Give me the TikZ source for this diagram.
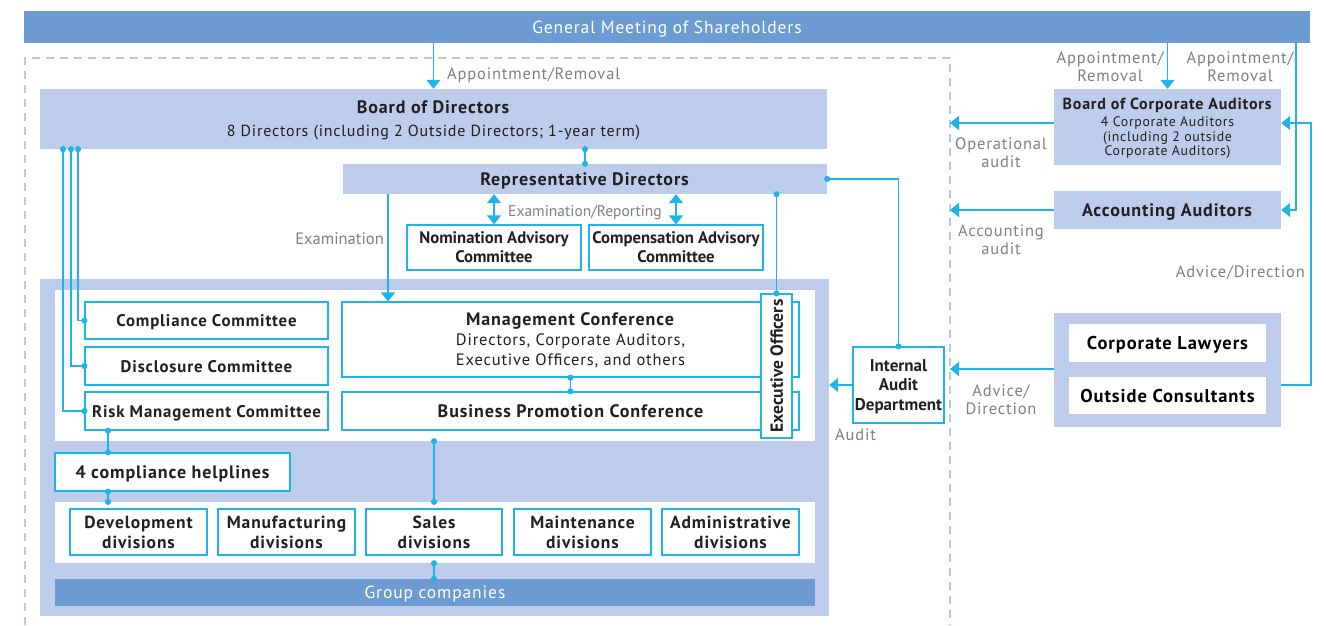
\documentclass[tikz,border=0pt]{standalone}
\usepackage{fontspec}
\setmainfont{PT Sans}[LetterSpace=5]
\newfontfamily\narrowfont{PT Sans}
\usetikzlibrary{arrows.meta,positioning}

\definecolor{barblue}{HTML}{6B9BD0}
\definecolor{paleblue}{HTML}{BCCCEA}
\definecolor{linkblue}{HTML}{1EB4EA}
\definecolor{framegray}{HTML}{B4C8EC}
\definecolor{inkdark}{HTML}{231F20}
\definecolor{notegray}{HTML}{7F7F7F}

\tikzset{
  bar/.style={fill=barblue, text=white, inner sep=0pt, text depth=0pt, font=\fontsize{17.5}{20}\selectfont},
  band/.style={fill=paleblue, text=inkdark, align=center, inner sep=0pt, text depth=0pt, font=\fontsize{16}{23}\selectfont},
  outline/.style={draw=linkblue, line width=1.3pt, fill=white, text=inkdark, align=center, inner sep=0pt, text depth=0pt, font=\bfseries\fontsize{16.8}{19}\selectfont},
  plain/.style={fill=white, inner sep=0pt, text depth=0pt},
  note/.style={text=notegray, align=center, inner sep=0pt, font=\fontsize{16.5}{18}\selectfont},
  link/.style={draw=linkblue, line width=1.5pt},
  arr/.style={link, -{Triangle[width=14pt,length=9pt]}},
  dual/.style={link, {Triangle[width=14pt,length=9pt]}-{Triangle[width=14pt,length=9pt]}},
  dotlink/.style={link, {Circle[length=6pt]}-{Circle[length=6pt]}, shorten <=-3pt, shorten >=-3pt},
}

\begin{document}
\begin{tikzpicture}[x=1pt, y=-1pt]
  \useasboundingbox (0,0) rectangle (1326,625);

  % Define nodes
  \node[bar, minimum width=1286pt, minimum height=32pt] (gm) at (667,27) {General Meeting of Shareholders};
  \draw[framegray, line width=1.2pt, dash pattern=on 8pt off 6pt] (25,625) -- (25,58) -- (950,58) -- (950,625);

  \node[band, minimum width=787pt, minimum height=60pt] (bod) at (433.5,119)
    {\textbf{\fontsize{18}{23}\selectfont Board of Directors}\\8 Directors (including 2 Outside Directors; 1-year term)};
  \node[band, minimum width=484pt, minimum height=30pt] (rep) at (585,179)
    {\textbf{\fontsize{18}{20}\selectfont Representative Directors}};
  \node[outline, minimum width=174pt, minimum height=45pt, font=\narrowfont\bfseries\fontsize{16.7}{19}\selectfont] (nom) at (494,247.5) {Nomination Advisory\\Committee};
  \node[outline, minimum width=174pt, minimum height=45pt, font=\narrowfont\bfseries\fontsize{16.7}{19}\selectfont] (comp) at (676,247.5) {Compensation Advisory\\Committee};

  \node[fill=paleblue, minimum width=789pt, minimum height=337pt, inner sep=0pt] (block) at (434.5,447.5) {};
  \node[plain, minimum width=760pt, minimum height=151pt] (upwhite) at (435,365.5) {};
  \node[plain, minimum width=760pt, minimum height=61pt] (lowwhite) at (435,532.5) {};
  \node[bar, minimum width=760pt, minimum height=27pt] (grp) at (435,592.5) {Group companies};

  \node[outline, minimum width=243pt, minimum height=37pt] (compl) at (206.5,320.5) {Compliance Committee};
  \node[outline, minimum width=243pt, minimum height=38pt] (discl) at (206.5,366) {Disclosure Committee};
  \node[outline, minimum width=243pt, minimum height=38pt] (risk) at (206.5,411) {Risk Management Committee};
  \node[outline, minimum width=457pt, minimum height=75pt, font=\fontsize{16.5}{20}\selectfont] (mgmt) at (570.5,339.5)
    {\textbf{\fontsize{18}{22}\selectfont Management Conference}\\Directors, Corporate Auditors,\\Executive Officers, and others};
  \node[outline, minimum width=457pt, minimum height=38pt, font=\bfseries\fontsize{18}{20}\selectfont] (bpc) at (570.5,411) {Business Promotion Conference};
  \node[outline, rotate=90, minimum width=144pt, minimum height=31pt, font=\narrowfont\bfseries\fontsize{17.5}{20}\selectfont] (exec) at (776.5,366) {Executive Officers};
  \node[outline, minimum width=235pt, minimum height=38pt, font=\bfseries\fontsize{18}{20}\selectfont] (help) at (172.5,472) {4 compliance helplines};

  \node[outline, minimum width=137pt, minimum height=46pt, font=\bfseries\fontsize{17.5}{20}\selectfont] (dev) at (138.5,532) {Development\\divisions};
  \node[outline, minimum width=137pt, minimum height=46pt, font=\bfseries\fontsize{17.5}{20}\selectfont] (manu) at (286.5,532) {Manufacturing\\divisions};
  \node[outline, minimum width=136pt, minimum height=46pt, font=\bfseries\fontsize{17.5}{20}\selectfont] (sales) at (434,532) {Sales\\divisions};
  \node[outline, minimum width=137pt, minimum height=46pt, font=\bfseries\fontsize{17.5}{20}\selectfont] (maint) at (582.5,532) {Maintenance\\divisions};
  \node[outline, minimum width=137pt, minimum height=46pt, font=\bfseries\fontsize{17.5}{20}\selectfont] (admin) at (730.5,532) {Administrative\\divisions};

  \node[outline, minimum width=91pt, minimum height=76pt, font=\narrowfont\bfseries\fontsize{17}{19.5}\selectfont] (iad) at (898.5,385) {Internal\\Audit\\Department};

  \node[band, minimum width=227pt, minimum height=76pt, font=\fontsize{13.8}{14.5}\selectfont] (bca) at (1167.5,127)
    {\textbf{\fontsize{16}{20}\selectfont Board of Corporate Auditors}\\[2.5pt]4 Corporate Auditors\\(including 2 outside\\Corporate Auditors)};
  \node[band, minimum width=227pt, minimum height=38pt] (acc) at (1167.5,210)
    {\textbf{\fontsize{18}{20}\selectfont Accounting Auditors}};
  \node[fill=paleblue, minimum width=227pt, minimum height=114pt, inner sep=0pt] (adv) at (1167.5,370) {};
  \node[plain, minimum width=197pt, minimum height=38pt, font=\bfseries\fontsize{18.5}{20}\selectfont] (law) at (1167.5,343) {Corporate Lawyers};
  \node[plain, minimum width=197pt, minimum height=37pt, font=\bfseries\fontsize{18.5}{20}\selectfont] (cons) at (1167.5,395.5) {Outside Consultants};

  \coordinate (opA) at (950,123);
  \coordinate (acA) at (950,210);
  \coordinate (adA) at (950,369);
  \coordinate (advR) at (1311,385);

  % Connect the nodes
  \draw[arr] (gm.south -| bod.north) -- (bod.north);
  \draw[dotlink] (bod.south -| rep.north) -- (rep.north);
  \draw[dotlink] (rep.east) -| (iad.north);
  \draw[arr] (rep.south -| 388,0) -- (mgmt.north -| 388,0);
  \draw[dual] (rep.south -| nom.north) -- (nom.north);
  \draw[dual] (rep.south -| comp.north) -- (comp.north);
  \draw[dotlink] (rep.south -| exec.east) -- (exec.east);
  \draw[dotlink] (bod.south -| 78,0) |- (compl.west);
  \draw[dotlink] (bod.south -| 71,0) |- (discl.west);
  \draw[dotlink] (bod.south -| 63,0) |- (risk.west);
  \draw[dotlink] (mgmt.south) -- (bpc.north);
  \draw[dotlink] (risk.south -| 108,0) -- (help.north -| 108,0);
  \draw[dotlink] (help.south -| 108,0) -- (lowwhite.north -| 108,0);
  \draw[dotlink] (upwhite.south -| sales.north) -- (lowwhite.north -| sales.north);
  \draw[dotlink] (lowwhite.south -| sales.south) -- (grp.north -| sales.south);
  \draw[arr] (iad.west) -- (block.east |- iad.west);

  \draw[arr] (gm.south -| bca.north) -- (bca.north);
  \draw[arr] (gm.south -| 1296,0) |- (acc.east);
  \draw[arr] (bca.west |- opA) -- (opA);
  \draw[arr] (acc.west) -- (acA);
  \draw[arr] (advR -| adv.east) -- (advR) |- (bca.east |- opA);
  \draw[arr] (adv.west |- adA) -- (adA);

  % Labels
  \node[note, anchor=west] (lAppoint) at (447,75) {Appointment/Removal};
  \node[note, anchor=east, font=\narrowfont\fontsize{16.5}{18}\selectfont] (lExam) at (384,239) {Examination};
  \node[note, font=\narrowfont\fontsize{15.5}{18}\selectfont] (lExamRep) at (585,213) {Examination/Reporting};
  \node[note, anchor=west] (lAudit) at (835,435) {Audit};
  \node[note] (lAppBca) at (1110,67) {Appointment/\\Removal};
  \node[note] (lAppAcc) at (1240,67) {Appointment/\\Removal};
  \node[note] (lOper) at (1001,153) {Operational\\audit};
  \node[note] (lAcc) at (1001,240) {Accounting\\audit};
  \node[note, anchor=east] (lAdvice) at (1305,273) {Advice/Direction};
  \node[note] (lAdvDir) at (1001,400) {Advice/\\Direction};
\end{tikzpicture}
\end{document}
